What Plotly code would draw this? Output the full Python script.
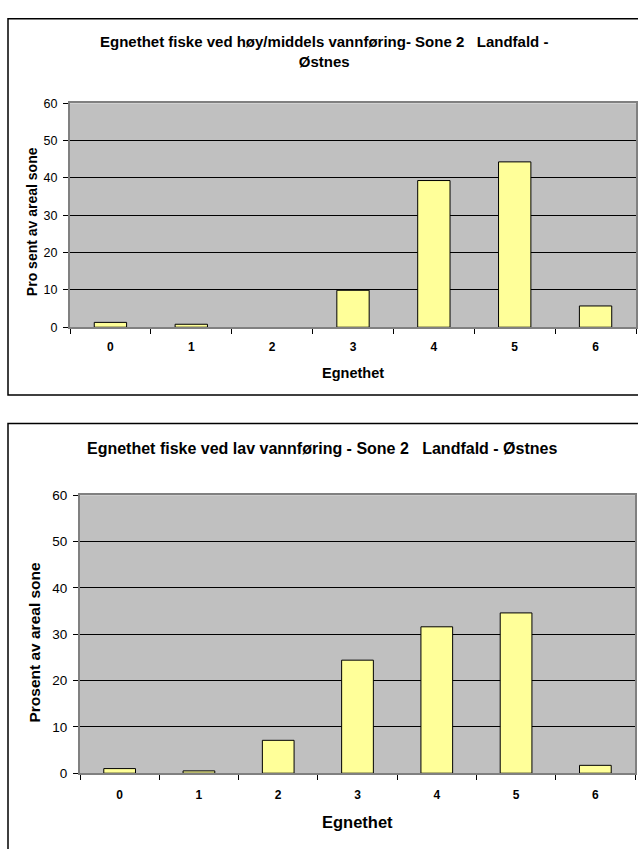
import plotly.graph_objects as go

# Suitability classes (Egnethet) and share of zone area in percent
categories = ["0", "1", "2", "3", "4", "5", "6"]
high_flow = [1.3, 0.8, 0.0, 9.9, 39.3, 44.3, 5.7]
low_flow = [1.0, 0.5, 7.1, 24.4, 31.6, 34.6, 1.7]
y_ticks = [0, 10, 20, 30, 40, 50, 60]

title_high = "Egnethet fiske ved høy/middels vannføring- Sone 2\u00a0\u00a0 Landfald -<br>Østnes"
title_low = "Egnethet fiske ved lav vannføring - Sone 2\u00a0\u00a0 Landfald - Østnes"
x_title = "Egnethet"
y_title_high = "Pro sent av areal sone"
y_title_low = "Prosent av areal sone"

W, H = 638, 849
FONT = "Liberation Sans, Arial, sans-serif"
BAR_FILL = "#FFFF99"
PLOT_BG = "#C0C0C0"
AXIS_GREY = "#808080"


def px_x(v):
    return v / W


def px_y(v):
    return 1 - v / H


def outline_widths(values):
    # empty classes get no visible outline
    return [0 if v == 0 else 1 for v in values]


fig = go.Figure()

fig.add_trace(go.Bar(
    x=categories, y=high_flow, width=0.4,
    marker=dict(color=BAR_FILL, line=dict(color="black", width=outline_widths(high_flow))),
    xaxis="x", yaxis="y", showlegend=False,
))
fig.add_trace(go.Bar(
    x=categories, y=low_flow, width=0.4,
    marker=dict(color=BAR_FILL, line=dict(color="black", width=outline_widths(low_flow))),
    xaxis="x2", yaxis="y2", showlegend=False,
))


def xaxis_style(domain, anchor, standoff):
    return dict(
        domain=domain, anchor=anchor, type="category",
        tickson="boundaries", ticks="outside", ticklen=5, tickwidth=1,
        tickcolor="black", showline=True, linecolor=AXIS_GREY, linewidth=2,
        mirror=True, showgrid=False, zeroline=False,
        tickfont=dict(family=FONT, size=12, color="black", weight="bold"),
        ticklabelstandoff=standoff, fixedrange=True,
    )


def yaxis_style(domain, anchor, size):
    return dict(
        domain=domain, anchor=anchor, range=[0, 60], tickvals=y_ticks,
        ticks="outside", ticklen=5, tickwidth=1, tickcolor="black",
        showline=True, linecolor=AXIS_GREY, linewidth=2, mirror=True,
        showgrid=True, gridcolor="black", gridwidth=1, zeroline=False,
        tickfont=dict(family=FONT, size=size, color="black"),
        ticklabelstandoff=3, fixedrange=True,
    )


fig.update_layout(
    width=W, height=H,
    margin=dict(l=0, r=0, t=0, b=0),
    paper_bgcolor="white", plot_bgcolor=PLOT_BG,
    bargap=0.6,
    xaxis=xaxis_style([px_x(70), px_x(636)], "y", 7),
    yaxis=yaxis_style([px_y(326), px_y(98)], "x", 12.5),
    xaxis2=xaxis_style([px_x(80), px_x(635)], "y2", 9),
    yaxis2=yaxis_style([px_y(780), px_y(497)], "x2", 13.5),
)

# Chart frames
fig.add_shape(type="rect", xref="paper", yref="paper",
              x0=px_x(8), x1=1.02, y0=px_y(395), y1=px_y(12),
              line=dict(color="black", width=1.5), layer="below")
fig.add_shape(type="rect", xref="paper", yref="paper",
              x0=px_x(8), x1=1.02, y0=-0.02, y1=px_y(424),
              line=dict(color="black", width=1.5), layer="below")


def label(text, x, y, size, angle=0):
    fig.add_annotation(
        text=text, xref="paper", yref="paper", x=px_x(x), y=px_y(y),
        xanchor="center", yanchor="middle", showarrow=False, textangle=angle,
        font=dict(family=FONT, size=size, color="black", weight="bold"),
    )


label(title_high, 324, 45, 15)
label(title_low, 322, 449, 16)
label(x_title, 353, 373, 14.5)
label(x_title, 357, 830, 16.5)
label(y_title_high, 32, 219, 14, angle=-90)
label(y_title_low, 35, 647, 15.5, angle=-90)

fig.write_html("out.html")
